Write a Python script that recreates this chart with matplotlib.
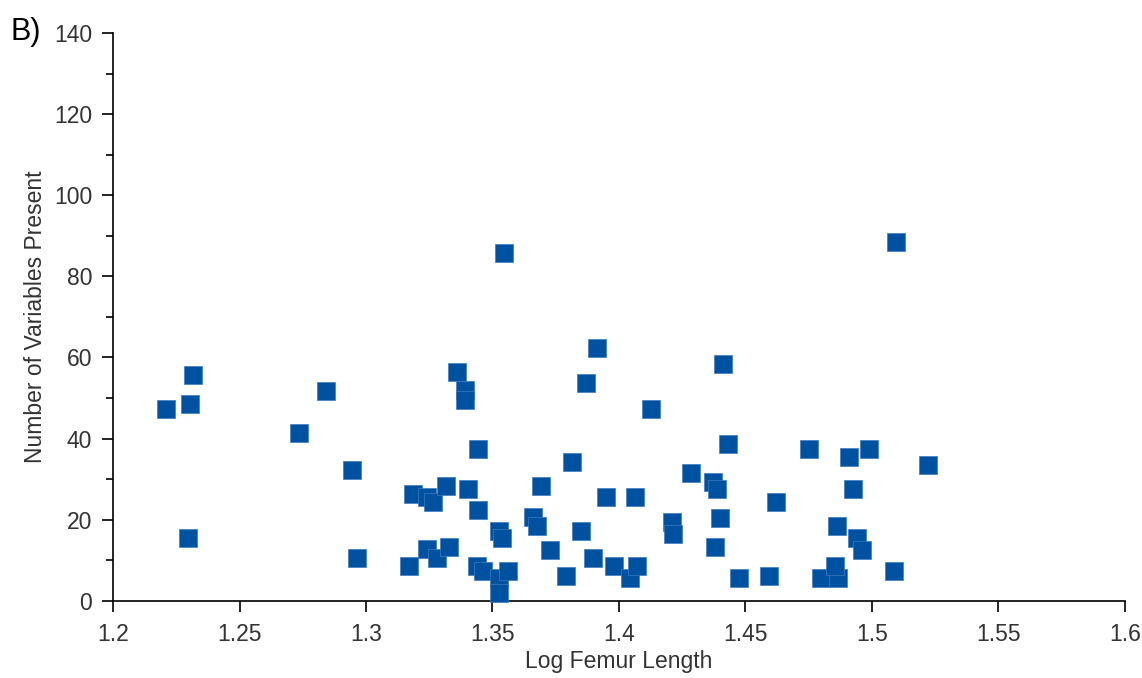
import matplotlib
matplotlib.use("Agg")
import matplotlib.pyplot as plt
from matplotlib.ticker import MultipleLocator

log_femur = [1.2209, 1.2304, 1.2317, 1.2298, 1.2735, 1.2842, 1.2943, 1.2963,
             1.3171, 1.3185, 1.3240, 1.3266, 1.3240, 1.3279, 1.3316, 1.3329,
             1.3361, 1.3392, 1.3392, 1.3404, 1.3444, 1.3444, 1.3438, 1.3464,
             1.3527, 1.3539, 1.3527, 1.3527, 1.3562, 1.3544,
             1.3659, 1.3677, 1.3690, 1.3727, 1.3791, 1.3815, 1.3849, 1.3868,
             1.3898, 1.3912, 1.3950, 1.3980, 1.4043, 1.4063, 1.4070, 1.4126,
             1.4208, 1.4215, 1.4285, 1.4373, 1.4386, 1.4399, 1.4379, 1.4411,
             1.4430, 1.4474, 1.4594, 1.4621, 1.4752, 1.4798, 1.4866, 1.4854,
             1.4860, 1.4910, 1.4924, 1.4942, 1.4962, 1.4987, 1.5088, 1.5095,
             1.5220]
n_vars = [47.3, 48.6, 55.6, 15.4, 41.4, 51.8, 32.3, 10.5,
          8.6, 26.3, 25.7, 24.4, 12.8, 10.5, 28.4, 13.3,
          56.4, 51.9, 49.4, 27.6, 37.5, 22.4, 8.6, 7.4,
          17.3, 15.4, 5.5, 1.8, 7.4, 85.7,
          20.6, 18.5, 28.4, 12.5, 6.2, 34.3, 17.3, 53.7,
          10.6, 62.3, 25.7, 8.6, 5.5, 25.7, 8.6, 47.3,
          19.4, 16.5, 31.5, 29.4, 27.5, 20.5, 13.3, 58.4,
          38.6, 5.5, 6.2, 24.4, 37.5, 5.5, 5.5, 8.6,
          18.5, 35.5, 27.6, 15.4, 12.5, 37.5, 7.4, 88.4,
          33.5]

x_ticks = [1.2, 1.25, 1.3, 1.35, 1.4, 1.45, 1.5, 1.55, 1.6]
x_labels = ["1.2", "1.25", "1.3", "1.35", "1.4", "1.45", "1.5", "1.55", "1.6"]
y_ticks = [0, 20, 40, 60, 80, 100, 120, 140]

plt.rcParams['font.family'] = ['Liberation Sans', 'DejaVu Sans']

fig = plt.figure(figsize=(11.42, 6.78), dpi=100)
ax = fig.add_axes([0.099, 0.114, 0.886, 0.837])

ax.scatter(log_femur, n_vars, marker='s', s=150, color='#0051A0',
           edgecolors='#3d7cc0', linewidths=0.5, zorder=3, clip_on=False)

ax.set_xlim(1.2, 1.6)
ax.set_ylim(0, 140)
ax.set_xticks(x_ticks)
ax.set_xticklabels(x_labels)
ax.set_yticks(y_ticks)
ax.yaxis.set_minor_locator(MultipleLocator(10))

for s in ['top', 'right']:
    ax.spines[s].set_visible(False)
for s in ['left', 'bottom']:
    ax.spines[s].set_linewidth(1.2)
    ax.spines[s].set_color('black')

ax.tick_params(axis='both', which='major', direction='out', length=8,
               width=1.2, labelsize=16.5, colors='black', labelcolor='#333333')
ax.tick_params(axis='y', which='major', pad=7)
ax.tick_params(axis='x', which='major', pad=8)
ax.tick_params(axis='y', which='minor', direction='out', length=5, width=1.2)

ax.set_xlabel("Log Femur Length", fontsize=16.5, color='#333333', labelpad=3)
ax.set_ylabel("Number of Variables Present", fontsize=16.5, color='#333333', labelpad=5)

fig.text(0.009, 0.975, "B)", fontsize=22, color='black', va='top', ha='left')

fig.savefig("out.png", dpi=100)
